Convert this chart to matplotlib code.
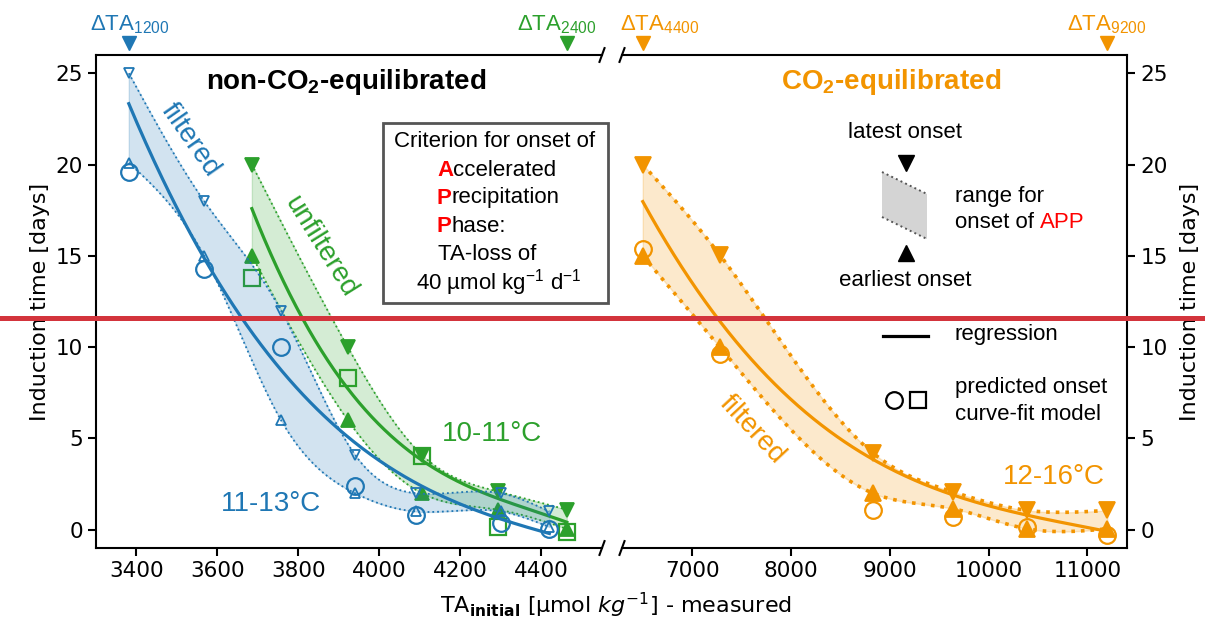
import numpy as np
import matplotlib
matplotlib.use('Agg')
import matplotlib.pyplot as plt
from matplotlib.patches import Rectangle, Polygon
from matplotlib.lines import Line2D
from matplotlib.text import Annotation
import matplotlib.transforms as mtransforms

plt.rcParams['font.family'] = ['DejaVu Sans']
plt.rcParams['mathtext.fontset'] = 'custom'
plt.rcParams['mathtext.rm'] = 'Liberation Sans'
plt.rcParams['mathtext.it'] = 'Liberation Sans:italic'
plt.rcParams['mathtext.bf'] = 'Liberation Sans:bold'

# ---------------- data ----------------
blue_x = [3381, 3567, 3757, 3940, 4090, 4300, 4420]
blue_latest = [25.0, 18.0, 12.0, 4.1, 2.0, 2.0, 1.0]
blue_earliest = [20.1, 15.0, 6.0, 2.0, 1.0, 1.0, 0.15]
blue_pred = [19.6, 14.3, 10.0, 2.4, 0.8, 0.35, 0.05]
blue_reg_x = [3381, 3567, 3623, 3757, 3895, 4092, 4290, 4420]
blue_reg_y = [23.4, 14.8, 12.6, 9.1, 5.6, 2.4, 0.7, -0.2]

green_x = [3685, 3922, 4105, 4292, 4463]
green_latest = [20.0, 10.0, 4.1, 2.1, 1.1]
green_earliest = [15.0, 6.0, 2.0, 1.1, 0.05]
green_pred = [13.8, 8.3, 4.05, 0.17, -0.1]
green_reg_x = [3685, 3786, 3922, 4105, 4290, 4463]
green_reg_y = [17.6, 12.6, 7.6, 4.0, 1.6, 0.45]

orange_x = [6500, 7280, 8830, 9640, 10390, 11200]
orange_latest = [20.0, 15.05, 4.2, 2.07, 1.06, 1.06]
orange_earliest = [15.0, 10.0, 2.0, 1.15, 0.05, 0.05]
orange_pred = [15.35, 9.6, 1.1, 0.7, 0.15, -0.3]
orange_reg_x = [6500, 7250, 7990, 8830, 9640, 10390, 11200]
orange_reg_y = [18.0, 11.6, 7.1, 4.0, 1.9, 0.7, -0.05]

left_xticks = [3400, 3600, 3800, 4000, 4200, 4400]
right_xticks = [7000, 8000, 9000, 10000, 11000]
yticks = [0, 5, 10, 15, 20, 25]

BLUE = '#1f77b4'
GREEN = '#2ca02c'
ORANGE = '#f29400'
RED = '#d3343c'
FONT = 'Liberation Sans'

W, H = 1205, 626


def fx(px):
    return px / W


def fy(py):
    return 1 - py / H


def nat_spline(x, y, num=300):
    x = np.asarray(x, float)
    y = np.asarray(y, float)
    n = len(x)
    h = np.diff(x)
    A = np.zeros((n, n))
    b = np.zeros(n)
    A[0, 0] = 1
    A[-1, -1] = 1
    for i in range(1, n - 1):
        A[i, i - 1] = h[i - 1]
        A[i, i] = 2 * (h[i - 1] + h[i])
        A[i, i + 1] = h[i]
        b[i] = 6 * ((y[i + 1] - y[i]) / h[i] - (y[i] - y[i - 1]) / h[i - 1])
    M = np.linalg.solve(A, b)
    xs = np.linspace(x[0], x[-1], num)
    idx = np.clip(np.searchsorted(x, xs) - 1, 0, n - 2)
    xi, xi1 = x[idx], x[idx + 1]
    hi = xi1 - xi
    t1 = xi1 - xs
    t0 = xs - xi
    ys = (M[idx] * t1 ** 3 + M[idx + 1] * t0 ** 3) / (6 * hi) \
        + (y[idx] / hi - M[idx] * hi / 6) * t1 + (y[idx + 1] / hi - M[idx + 1] * hi / 6) * t0
    return xs, ys


def regression(x, y, num=300):
    c = np.polyfit(x, y, 3)
    xs = np.linspace(min(x), max(x), num)
    return xs, np.polyval(c, xs)


fig = plt.figure(figsize=(W / 100, H / 100), dpi=100)
ax1 = fig.add_axes([fx(96), fy(548), (602 - 96) / W, (548 - 55) / H])
ax2 = fig.add_axes([fx(622), fy(548), (1127 - 622) / W, (548 - 55) / H])


def draw_group(ax, x, late, early, pred, rx, ry, color, tri_ms, tri_fill, pred_marker,
               pred_ms, dot_lw, z):
    xs, up = nat_spline(x, late)
    _, lo = nat_spline(x, early)
    ax.fill_between(xs, lo, up, facecolor=color, alpha=0.2, edgecolor=color,
                    linewidth=1.0, zorder=z)
    ax.plot(xs, up, ':', color=color, lw=dot_lw, zorder=z + 0.1)
    ax.plot(xs, lo, ':', color=color, lw=dot_lw, zorder=z + 0.1)
    rxs, rys = regression(rx, ry)
    ax.plot(rxs, rys, '-', color=color, lw=2.3, zorder=z + 0.2)
    fc = color if tri_fill else 'none'
    ax.plot(x, late, 'v', ms=tri_ms, mfc=fc, mec=color, mew=1.3, ls='none', zorder=z + 0.3)
    ax.plot(x, early, '^', ms=tri_ms, mfc=fc, mec=color, mew=1.3, ls='none', zorder=z + 0.3)
    ax.plot(x, pred, pred_marker, ms=pred_ms, mfc='none', mec=color, mew=1.6, ls='none',
            zorder=z + 0.4)


draw_group(ax1, green_x, green_latest, green_earliest, green_pred, green_reg_x, green_reg_y,
           GREEN, 10, True, 's', 11, 1.3, 2)
draw_group(ax1, blue_x, blue_latest, blue_earliest, blue_pred, blue_reg_x, blue_reg_y,
           BLUE, 7, False, 'o', 12, 1.3, 3)
draw_group(ax2, orange_x, orange_latest, orange_earliest, orange_pred, orange_reg_x, orange_reg_y,
           ORANGE, 12, True, 'o', 12, 2.6, 2)

ax1.set_xlim(3300, 4550)
ax2.set_xlim(6290, 11400)
for ax in (ax1, ax2):
    ax.set_ylim(-1, 26)
    ax.set_yticks(yticks)
    ax.tick_params(labelsize=15.5, length=6, width=1.5)
    for s in ax.spines.values():
        s.set_linewidth(1.5)
ax1.set_xticks(left_xticks)
ax2.set_xticks(right_xticks)
ax1.spines['right'].set_visible(False)
ax2.spines['left'].set_visible(False)
ax2.yaxis.tick_right()
ax2.yaxis.set_label_position('right')
ax1.set_ylabel('Induction time [days]', fontsize=16, labelpad=4)
ax2.set_ylabel('Induction time [days]', fontsize=16, labelpad=9)

# break marks
dx, dy = 0.005, 0.014
for ax, xc in ((ax1, 1.0), (ax2, 0.0)):
    for yc in (0.0, 1.0):
        ax.plot([xc - dx, xc + dx], [yc - dy, yc + dy], transform=ax.transAxes,
                color='k', lw=1.5, clip_on=False)

# top delta TA markers
tops = [(ax1, blue_x[0], BLUE, r'ΔTA$_{1200}$', 130),
        (ax1, green_x[-1], GREEN, r'ΔTA$_{2400}$', 557),
        (ax2, orange_x[0], ORANGE, r'ΔTA$_{4400}$', 660),
        (ax2, orange_x[-1], ORANGE, r'ΔTA$_{9200}$', 1107)]
for ax, xv, col, lab, tx in tops:
    tr = mtransforms.blended_transform_factory(ax.transData, ax.transAxes)
    ax.plot([xv], [1.024], 'v', ms=10, color=col, transform=tr, clip_on=False)
    fig.text(fx(tx), fy(30), lab, color=col, fontsize=16, family=FONT,
             ha='center', va='baseline')

# x label
fig.text(fx(616), fy(605), r'TA$_{\mathbf{initial}}$ [µmol $kg^{-1}$] - measured',
         fontsize=16, ha='center', va='center', math_fontfamily='dejavusans')

# titles
fig.text(fx(346), fy(82), r'non-CO$_{\mathbf{2}}$-equilibrated', fontsize=20,
         fontweight='bold', family=FONT, ha='center', va='center')
fig.text(fx(891), fy(82), r'CO$_{\mathbf{2}}$-equilibrated', fontsize=20,
         fontweight='bold', family=FONT, color=ORANGE, ha='center', va='center')

# series labels
fig.text(fx(190), fy(140), 'filtered', color=BLUE, fontsize=20, family=FONT,
         rotation=-55, rotation_mode='anchor', ha='center', va='center')
fig.text(fx(320), fy(247), 'unfiltered', color=GREEN, fontsize=20, family=FONT,
         rotation=-58, rotation_mode='anchor', ha='center', va='center')
fig.text(fx(752), fy(430), 'filtered', color=ORANGE, fontsize=20, family=FONT,
         rotation=-47, rotation_mode='anchor', ha='center', va='center')
fig.text(fx(492), fy(434), '10-11°C', color=GREEN, fontsize=20, family=FONT,
         ha='center', va='center')
fig.text(fx(271), fy(504), '11-13°C', color=BLUE, fontsize=20, family=FONT,
         ha='center', va='center')
fig.text(fx(1054), fy(477), '12-16°C', color=ORANGE, fontsize=20, family=FONT,
         ha='center', va='center')

# criterion box
box = Rectangle((fx(383), fy(303)), (608 - 383) / W, (303 - 123) / H,
                transform=fig.transFigure, facecolor='white', edgecolor='#555555',
                lw=2, zorder=10)
fig.add_artist(box)
bfs = 16
fig.text(fx(495), fy(142), 'Criterion for onset of', fontsize=bfs, family=FONT,
         ha='center', va='center', zorder=11)
for word, py in (('Accelerated', 170), ('Precipitation', 198), ('Phase:', 227)):
    t = fig.text(fx(437), fy(py), word[0], color='red', fontweight='bold', fontsize=bfs,
                 family=FONT, ha='left', va='center', zorder=11)
    a = Annotation(word[1:], xy=(1, 0), xycoords=t, ha='left', va='bottom', fontsize=bfs,
                   family=FONT, annotation_clip=False, zorder=11)
    fig.add_artist(a)
fig.text(fx(438), fy(255), 'TA-loss of', fontsize=bfs, family=FONT, ha='left',
         va='center', zorder=11)
fig.text(fx(499), fy(283), r'40 µmol kg$^{-1}$ d$^{-1}$', fontsize=bfs, family=FONT,
         ha='center', va='center', zorder=11)

# legend-like key
lfs = 16
fig.text(fx(905), fy(133), 'latest onset', fontsize=lfs, family=FONT, ha='center', va='center')
fig.add_artist(Line2D([fx(906)], [fy(163)], marker='v', ms=12, color='k', ls='none',
                      transform=fig.transFigure))
para = [(882, 172), (927, 194), (927, 239), (882, 217)]
fig.add_artist(Polygon([(fx(a), fy(b)) for a, b in para], closed=True,
                       transform=fig.transFigure, facecolor='#d4d4d4', edgecolor='none'))
fig.add_artist(Line2D([fx(882), fx(927)], [fy(172), fy(194)], ls=':', color='#555555',
                      lw=1.4, transform=fig.transFigure))
fig.add_artist(Line2D([fx(882), fx(927)], [fy(217), fy(239)], ls=':', color='#555555',
                      lw=1.4, transform=fig.transFigure))
fig.add_artist(Line2D([fx(906)], [fy(253)], marker='^', ms=12, color='k', ls='none',
                      transform=fig.transFigure))
fig.text(fx(905), fy(280), 'earliest onset', fontsize=lfs, family=FONT, ha='center', va='center')
fig.text(fx(955), fy(196), 'range for', fontsize=lfs, family=FONT, ha='left', va='center')
t = fig.text(fx(955), fy(223), 'onset of ', fontsize=lfs, family=FONT, ha='left', va='center')
fig.add_artist(Annotation('APP', xy=(1, 0), xycoords=t, ha='left', va='bottom', fontsize=lfs,
                          family=FONT, color='red', annotation_clip=False))
fig.add_artist(Line2D([fx(883), fx(928)], [fy(336), fy(336)], color='k', lw=2.3,
                      transform=fig.transFigure))
fig.text(fx(955), fy(334), 'regression', fontsize=lfs, family=FONT, ha='left', va='center')
fig.add_artist(Line2D([fx(894)], [fy(400)], marker='o', ms=12, mfc='none', mec='k', mew=1.6,
                      ls='none', transform=fig.transFigure))
fig.add_artist(Line2D([fx(918)], [fy(400)], marker='s', ms=12, mfc='none', mec='k', mew=1.6,
                      ls='none', transform=fig.transFigure))
fig.text(fx(955), fy(387), 'predicted onset', fontsize=lfs, family=FONT, ha='left', va='center')
fig.text(fx(955), fy(415), 'curve-fit model', fontsize=lfs, family=FONT, ha='left', va='center')

# red horizontal line across the figure
fig.add_artist(Line2D([0, 1], [fy(318), fy(318)], color=RED, lw=3.6,
                      transform=fig.transFigure, zorder=100))

fig.savefig('out.png', dpi=100)
